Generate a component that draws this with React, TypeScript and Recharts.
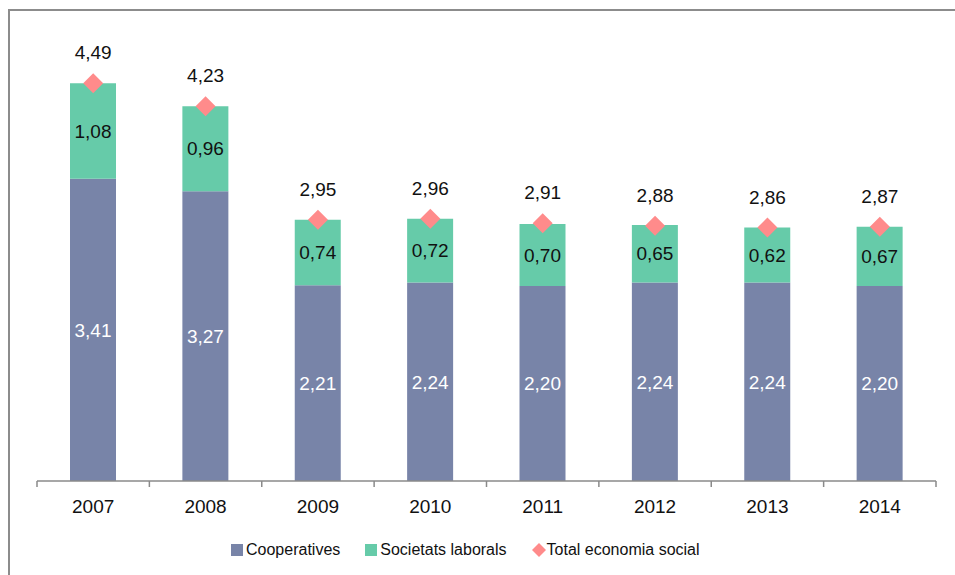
import React from 'react';
import { ComposedChart, Bar, Line, XAxis, YAxis, Legend, LabelList } from 'recharts';

const years = ['2007', '2008', '2009', '2010', '2011', '2012', '2013', '2014'];
const cooperatives = [3.41, 3.27, 2.21, 2.24, 2.2, 2.24, 2.24, 2.2];
const societats = [1.08, 0.96, 0.74, 0.72, 0.7, 0.65, 0.62, 0.67];
const totals = [4.49, 4.23, 2.95, 2.96, 2.91, 2.88, 2.86, 2.87];

const COOP = '#7884a8';
const SOC = '#66cba9';
const TOTAL = '#ff8b8b';
const FONT = '"Liberation Sans", Arial, sans-serif';

const data = years.map((year, i) => ({
  year,
  coop: cooperatives[i],
  soc: societats[i],
  total: totals[i],
}));

const fmt = (v: any) => Number(v).toFixed(2).replace('.', ',');

// ticks sit between categories, like Excel
const YearTick = (props: any) => {
  const { x, y, payload, index, visibleTicksCount, width } = props;
  const half = width / visibleTicksCount / 2;
  const last = index === visibleTicksCount - 1;
  return (
    <g>
      <line x1={x - half} x2={x - half} y1={y} y2={y + 6} stroke="#8a8a8a" strokeWidth={1.5} />
      {last && <line x1={x + half} x2={x + half} y1={y} y2={y + 6} stroke="#8a8a8a" strokeWidth={1.5} />}
      <text x={x} y={y + 32} textAnchor="middle" fontSize={19} fill="#111" fontFamily={FONT}>
        {payload.value}
      </text>
    </g>
  );
};

const Diamond = (props: any) => {
  const { cx, cy, index } = props;
  if (cx == null || cy == null) return null;
  const r = 10;
  return (
    <polygon
      key={`d-${index}`}
      points={`${cx},${cy - r} ${cx + r},${cy} ${cx},${cy + r} ${cx - r},${cy}`}
      fill={TOTAL}
    />
  );
};

const legendItems = [
  { name: 'Cooperatives', color: COOP, shape: 'square' },
  { name: 'Societats laborals', color: SOC, shape: 'square' },
  { name: 'Total economia social', color: TOTAL, shape: 'diamond' },
];

const renderLegend = () => (
  <div style={{ display: 'flex', alignItems: 'center', fontFamily: FONT, fontSize: 16, color: '#111' }}>
    {legendItems.map((it) => (
      <div key={it.name} style={{ display: 'flex', alignItems: 'center', marginRight: 25 }}>
        {it.shape === 'square' ? (
          <span style={{ display: 'inline-block', width: 12, height: 12, background: it.color, marginRight: 3 }} />
        ) : (
          <svg width={14} height={14} style={{ marginRight: 1 }}>
            <polygon points="7,0 14,7 7,14 0,7" fill={it.color} />
          </svg>
        )}
        <span>{it.name}</span>
      </div>
    ))}
  </div>
);

export default function App() {
  return (
    <div style={{ position: 'absolute', left: 0, top: 0, width: 955, height: 575, overflow: 'hidden', background: '#fff' }}>
      <div
        style={{
          position: 'absolute',
          left: 8,
          top: 9,
          width: 1000,
          height: 700,
          borderTop: '2px solid #8c8c8c',
          borderLeft: '2px solid #8c8c8c',
        }}
      />
      <ComposedChart
        width={955}
        height={575}
        data={data}
        margin={{ top: 38, right: 19, left: 37, bottom: 0 }}
        style={{ fontFamily: FONT }}
      >
        <XAxis
          dataKey="year"
          height={94}
          tickLine={false}
          tickSize={0}
          tickMargin={0}
          axisLine={{ stroke: '#8a8a8a', strokeWidth: 1.5 }}
          tick={<YearTick />}
          interval={0}
        />
        <YAxis hide domain={[0, 5]} />
        <Legend
          verticalAlign="middle"
          layout="horizontal"
          content={renderLegend}
          wrapperStyle={{ top: 541, left: 231, width: 600, height: 20 }}
        />
        <Bar dataKey="coop" name="Cooperatives" stackId="a" fill={COOP} barSize={46} isAnimationActive={false}>
          <LabelList dataKey="coop" position="center" fill="#ffffff" fontSize={19} formatter={fmt} />
        </Bar>
        <Bar dataKey="soc" name="Societats laborals" stackId="a" fill={SOC} barSize={46} isAnimationActive={false}>
          <LabelList dataKey="soc" position="center" fill="#111" fontSize={19} formatter={fmt} />
        </Bar>
        <Line
          dataKey="total"
          name="Total economia social"
          stroke="none"
          dot={Diamond}
          activeDot={false}
          legendType="diamond"
          isAnimationActive={false}
        >
          <LabelList dataKey="total" position="top" offset={24} fill="#111" fontSize={19} formatter={fmt} />
        </Line>
      </ComposedChart>
    </div>
  );
}
